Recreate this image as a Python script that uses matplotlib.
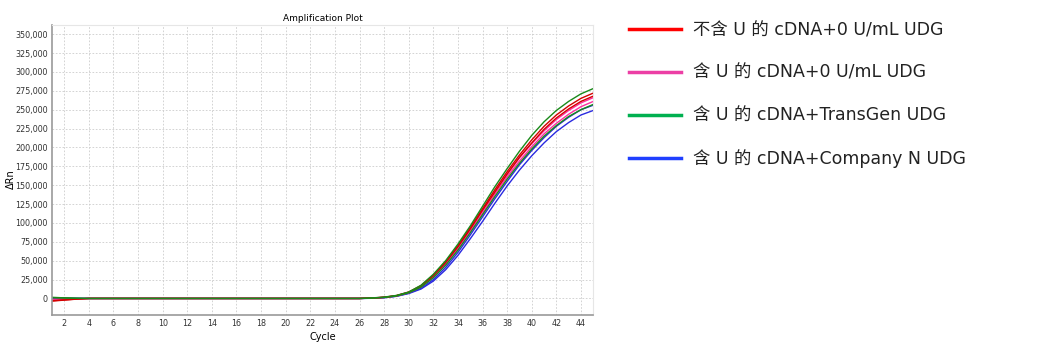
import matplotlib
matplotlib.use("Agg")
import matplotlib.pyplot as plt
from matplotlib.lines import Line2D
from matplotlib.ticker import FuncFormatter

# 循环数
cycles = list(range(1, 46))
base = [0] * 22   # 第5-26循环基线

# 每组两条复孔曲线 (ΔRn)
red_a = [-3500, -2200, -900, 0] + base + [600, 1600, 3800, 8500, 17000, 31000, 49000, 70000, 94000,
         119000, 144000, 168000, 190000, 210000, 228000, 243000, 255000, 265000, 272000]
red_b = [-3000, -1900, -800, 0] + base + [500, 1500, 3600, 8200, 16500, 30000, 47500, 68500, 92000,
         117000, 141000, 165000, 187000, 206000, 224000, 239000, 251000, 261000, 268000]
pink_a = [-1500, -1000, -400, 0] + base + [500, 1500, 3500, 8000, 16000, 29500, 47000, 68000, 91000,
          116000, 141000, 164000, 186000, 205000, 222000, 237000, 249000, 259000, 266000]
pink_b = [-1200, -800, -300, 0] + base + [400, 1400, 3300, 7700, 15500, 28500, 45500, 66000, 89000,
          113000, 138000, 161000, 182000, 201000, 218000, 232000, 244000, 254000, 261000]
green_a = [1500, 800, 300, 0] + base + [700, 1800, 4000, 8500, 17500, 32000, 50000, 72000, 96000,
           122000, 148000, 172000, 195000, 216000, 234000, 249000, 261000, 271000, 278000]
green_b = [1000, 600, 200, 0] + base + [400, 1300, 3200, 7500, 15000, 27500, 44000, 64000, 87000,
           111000, 135000, 158000, 179000, 198000, 215000, 229000, 241000, 250000, 257000]
blue_a = [500, 300, 100, 0] + base + [300, 1100, 3000, 7000, 13500, 25000, 41000, 61000, 84000,
          108000, 132000, 155000, 177000, 196000, 213000, 228000, 240000, 250000, 256000]
blue_b = [300, 200, 100, 0] + base + [200, 1000, 2800, 6500, 12500, 23000, 38000, 57000, 79000,
          102000, 126000, 149000, 170000, 189000, 206000, 221000, 233000, 243000, 249000]

labels = ['不含 U 的 cDNA+0 U/mL UDG', '含 U 的 cDNA+0 U/mL UDG',
          '含 U 的 cDNA+TransGen UDG', '含 U 的 cDNA+Company N UDG']
curve_colors = ['#d40000', '#ff2ea0', '#1a8a1a', '#2a2ae0']
legend_colors = ['#ff0000', '#ec3fa5', '#00b050', '#1f3fff']

fig = plt.figure(figsize=(10.39, 3.54), dpi=100)
ax = fig.add_axes([0.050, 0.110, 0.521, 0.819])

# 先画蓝、粉，再画红、绿
ax.plot(cycles, blue_a, color=curve_colors[3], lw=1)
ax.plot(cycles, blue_b, color=curve_colors[3], lw=1)
ax.plot(cycles, pink_a, color=curve_colors[1], lw=1)
ax.plot(cycles, pink_b, color=curve_colors[1], lw=1)
ax.plot(cycles, red_a, color=curve_colors[0], lw=1)
ax.plot(cycles, red_b, color=curve_colors[0], lw=1)
ax.plot(cycles, green_b, color=curve_colors[2], lw=1)
ax.plot(cycles, green_a, color=curve_colors[2], lw=1)

ax.set_xlim(1, 45)
ax.set_ylim(-22000, 362000)
ax.set_xticks(range(2, 45, 2))
ax.set_yticks(range(0, 350001, 25000))
ax.yaxis.set_major_formatter(FuncFormatter(lambda v, p: '{:,}'.format(int(v))))
ax.tick_params(labelsize=5.8, length=0, pad=3, colors='#333333')
ax.grid(True, color='#cccccc', linestyle=(0, (2, 2)), linewidth=0.6)
for s in ['left', 'bottom']:
    ax.spines[s].set_color('#999999')
    ax.spines[s].set_linewidth(1.2)
for s in ['top', 'right']:
    ax.spines[s].set_color('#e6e6e6')

ax.set_title('Amplification Plot', fontsize=6.5, pad=3)
ax.set_xlabel('Cycle', fontsize=7, labelpad=3)
ax.set_ylabel('ΔRn', fontsize=7)
ax.yaxis.set_label_coords(-0.066, 0.47)

# 图例
handles = [Line2D([], [], color=c, lw=2.5) for c in legend_colors]
fig.legend(handles, labels, loc='upper left', bbox_to_anchor=(0.590, 0.984),
           frameon=False, prop={'family': ['DejaVu Sans', 'Noto Sans CJK SC'], 'size': 12.5},
           handlelength=3.0, handletextpad=0.7, labelspacing=1.42, labelcolor='#222222')

fig.savefig('out.png', dpi=100)
